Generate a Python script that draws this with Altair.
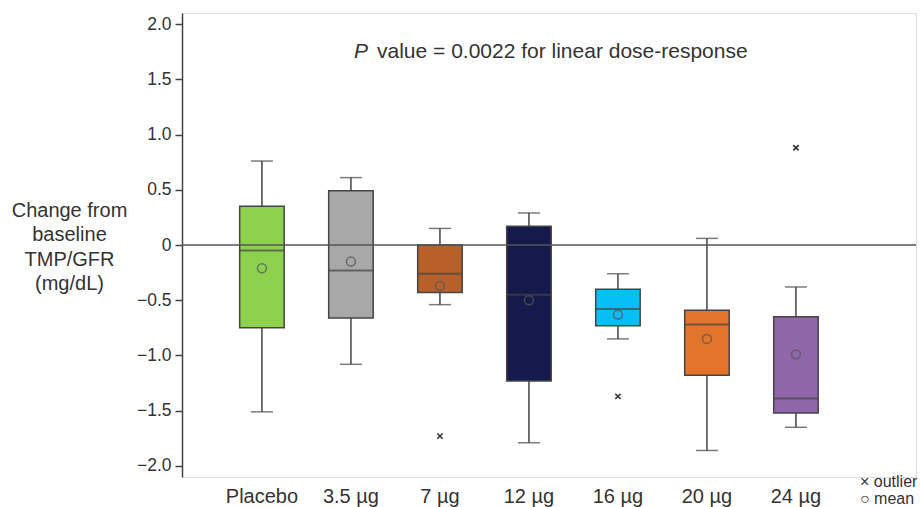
import altair as alt
import pandas as pd

categories = ["Placebo", "3.5 µg", "7 µg", "12 µg", "16 µg", "20 µg", "24 µg"]
colors = ["#8ED14F", "#A8A8A8", "#B8602A", "#151A4C", "#07BEF5", "#E2742B", "#8F67A8"]
whisker_high = [0.76, 0.61, 0.15, 0.29, -0.26, 0.06, -0.38]
q3 = [0.35, 0.49, 0.00, 0.17, -0.40, -0.59, -0.65]
median = [-0.05, -0.23, -0.26, -0.45, -0.58, -0.72, -1.39]
mean = [-0.21, -0.15, -0.37, -0.50, -0.63, -0.85, -0.99]
q1 = [-0.75, -0.66, -0.43, -1.23, -0.73, -1.18, -1.52]
whisker_low = [-1.51, -1.08, -0.54, -1.79, -0.85, -1.86, -1.65]
outlier_cats = ["7 µg", "16 µg", "24 µg"]
outlier_vals = [-1.73, -1.37, 0.88]
y_ticks = [-2.0, -1.5, -1.0, -0.5, 0.0, 0.5, 1.0, 1.5, 2.0]

df = pd.DataFrame({
    "cat": categories, "whigh": whisker_high, "q3": q3, "median": median,
    "mean": mean, "q1": q1, "wlow": whisker_low,
})
out_df = pd.DataFrame({"cat": outlier_cats, "val": outlier_vals})

FONT = "Liberation Sans"
TXT = "#333333"
LINE = "#444444"

xscale = alt.Scale(domain=categories, paddingInner=0.5, paddingOuter=0.8736, align=0.371)
yscale = alt.Scale(domain=[-2.1, 2.1], nice=False, zero=False)

x_enc = alt.X("cat:N", scale=xscale, sort=categories,
              axis=alt.Axis(title=None, domain=False, ticks=False, labelAngle=0,
                            labelFontSize=20, labelColor=TXT, labelPadding=9, labelFont=FONT))
y_axis = alt.Axis(values=y_ticks, title=["Change from", "baseline", "TMP/GFR", "(mg/dL)"],
                  titleAngle=0, titleAlign="center", titleBaseline="alphabetic",
                  titleX=-113, titleY=203, titleLineHeight=24.5, titleFontSize=20,
                  titleFontWeight="normal", titleColor=TXT, titleFont=FONT,
                  labelExpr="datum.value == 0 ? '0' : format(datum.value, '.1f')",
                  labelFontSize=17.5, labelColor=TXT, labelFont=FONT, labelPadding=4,
                  tickSize=7, tickColor=LINE, tickWidth=1.5,
                  domainColor=LINE, domainWidth=1.5, grid=False)

base = alt.Chart(df)

whiskers = base.mark_rule(color=LINE, strokeWidth=1.5).encode(
    x=x_enc, y=alt.Y("wlow:Q", scale=yscale, axis=y_axis), y2="whigh:Q")
cap_hi = base.mark_tick(size=22, thickness=1.5, color=LINE).encode(
    x=alt.X("cat:N", sort=categories), y=alt.Y("whigh:Q"))
cap_lo = base.mark_tick(size=22, thickness=1.5, color=LINE).encode(
    x=alt.X("cat:N", sort=categories), y=alt.Y("wlow:Q"))
boxes = base.mark_bar(stroke=LINE, strokeWidth=1.5, opacity=1).encode(
    x=alt.X("cat:N", sort=categories), y="q1:Q", y2="q3:Q",
    color=alt.Color("cat:N", scale=alt.Scale(domain=categories, range=colors), legend=None))
medians = base.mark_tick(size=44, thickness=2, color=LINE).encode(
    x=alt.X("cat:N", sort=categories), y="median:Q")
zero = alt.Chart(pd.DataFrame({"z": [0]})).mark_rule(color="#555555", strokeWidth=1.5).encode(
    y="z:Q")
means = base.mark_point(shape="circle", filled=False, size=80, strokeWidth=1.5,
                        color="#555555", opacity=0.75).encode(
    x=alt.X("cat:N", sort=categories), y="mean:Q")
outs = alt.Chart(out_df).mark_point(shape="M-1,-1L1,1M1,-1L-1,1", filled=False, size=28,
                                    strokeWidth=1.6, color="#333333", opacity=1).encode(
    x=alt.X("cat:N", sort=categories), y="val:Q")

ann = pd.DataFrame({"t": [0]})
p_italic = alt.Chart(ann).mark_text(text="P", font=FONT, fontSize=21, fontStyle="italic",
                                    align="left", baseline="alphabetic", color=TXT).encode(
    x=alt.value(172), y=alt.value(44.5))
p_rest = alt.Chart(ann).mark_text(text="value = 0.0022 for linear dose-response", font=FONT,
                                  fontSize=21, align="left", baseline="alphabetic", color=TXT).encode(
    x=alt.value(195), y=alt.value(44.5))
leg1 = alt.Chart(ann).mark_text(text="× outlier", font=FONT, fontSize=16, align="left",
                                baseline="alphabetic", color=TXT).encode(
    x=alt.value(678), y=alt.value(474))
leg2 = alt.Chart(ann).mark_text(text="○ mean", font=FONT, fontSize=16, align="left",
                                baseline="alphabetic", color=TXT).encode(
    x=alt.value(678), y=alt.value(491))

chart = alt.layer(whiskers, cap_hi, cap_lo, boxes, medians, zero, means, outs,
                  p_italic, p_rest, leg1, leg2).properties(
    width=734, height=464,
    autosize=alt.AutoSizeParams(type="none"),
    padding={"left": 182, "top": 13, "right": 4, "bottom": 30},
    background="white",
).configure_view(stroke=None).configure(font=FONT)

chart.save("out.html", embed_options={"renderer": "svg", "actions": False})
